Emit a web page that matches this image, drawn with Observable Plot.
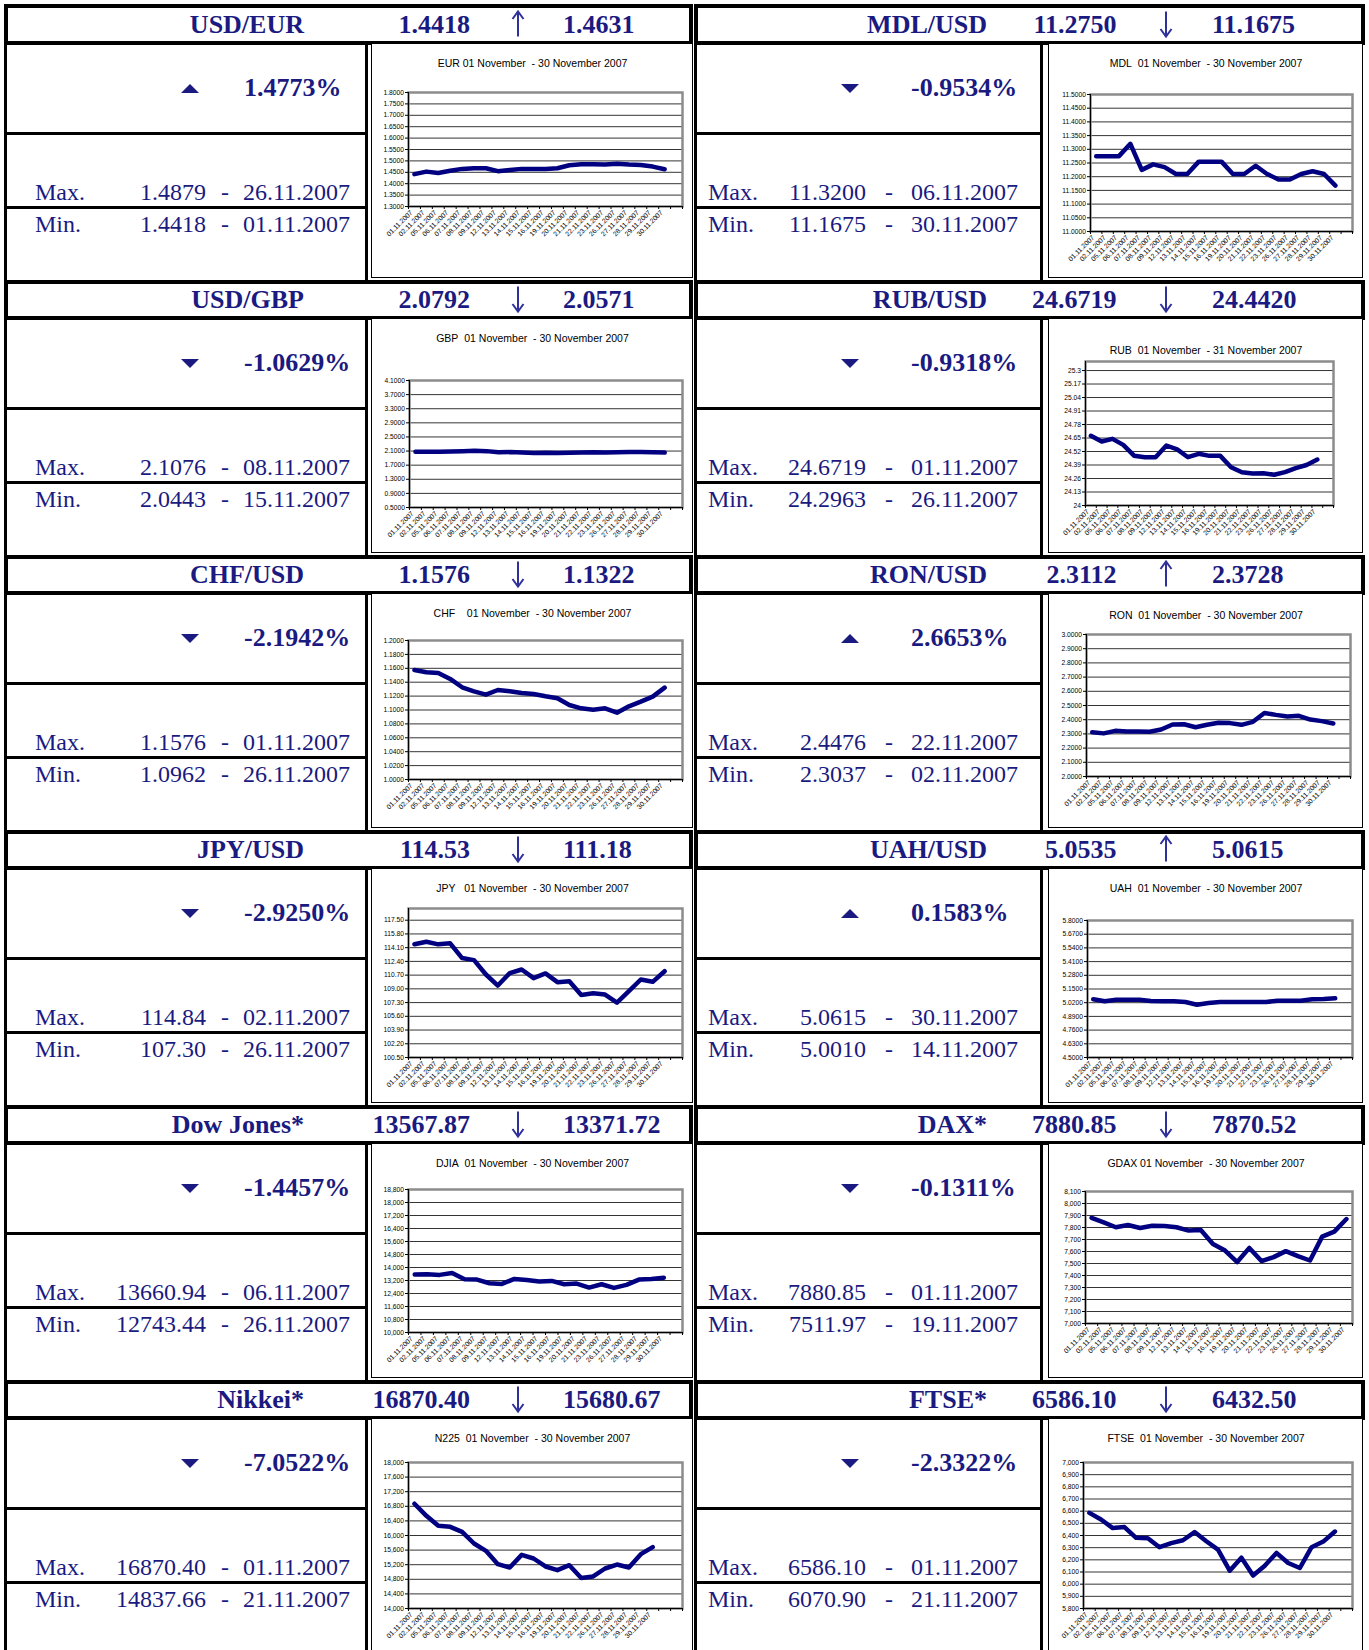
<!DOCTYPE html>
<html><head><meta charset="utf-8">
<script src="https://cdn.jsdelivr.net/npm/d3@7"></script>
<script src="https://cdn.jsdelivr.net/npm/@observablehq/plot@0.6"></script>
<style>
html,body{margin:0;padding:0;background:#fff;overflow:hidden}
#page{position:relative;width:1369px;height:1650px;background:#fff;overflow:hidden}
.t{position:absolute;white-space:nowrap;font-family:"Liberation Serif","Times New Roman",serif;color:#1a1a80;height:40px;line-height:40px}
.b{font-weight:bold;font-size:26px}
.r{font-size:24px}
.ln{position:absolute;background:#000}
.hdr{position:absolute;border:4px solid #000;box-sizing:border-box}
.box{position:absolute;border:1.5px solid #000;box-sizing:border-box;pointer-events:none}
.ch{position:absolute}
.arw{position:absolute;overflow:visible}
</style></head>
<body><div id="page"></div>
<script>
// ---------- data ----------
const dates22 = ["01.11.2007","02.11.2007","05.11.2007","06.11.2007","07.11.2007","08.11.2007","09.11.2007","12.11.2007","13.11.2007","14.11.2007","15.11.2007","16.11.2007","19.11.2007","20.11.2007","21.11.2007","22.11.2007","23.11.2007","26.11.2007","27.11.2007","28.11.2007","29.11.2007","30.11.2007"];
const datesDJIA = ["01.11.2007","02.11.2007","05.11.2007","06.11.2007","07.11.2007","08.11.2007","09.11.2007","12.11.2007","13.11.2007","14.11.2007","15.11.2007","16.11.2007","19.11.2007","20.11.2007","21.11.2007","23.11.2007","26.11.2007","27.11.2007","28.11.2007","29.11.2007","30.11.2007"];
const datesN225 = ["01.11.2007","02.11.2007","05.11.2007","06.11.2007","07.11.2007","08.11.2007","09.11.2007","12.11.2007","13.11.2007","14.11.2007","15.11.2007","16.11.2007","19.11.2007","20.11.2007","21.11.2007","22.11.2007","26.11.2007","27.11.2007","28.11.2007","29.11.2007","30.11.2007"];

const eurValues  = [1.4418,1.4530,1.4470,1.4570,1.4650,1.4680,1.4680,1.4550,1.4600,1.4650,1.4650,1.4650,1.4680,1.4810,1.4850,1.4850,1.4840,1.4879,1.4840,1.4820,1.4750,1.4631];
const mdlValues  = [11.2750,11.2750,11.2750,11.3200,11.2250,11.2450,11.2350,11.2100,11.2100,11.2550,11.2550,11.2550,11.2100,11.2100,11.2400,11.2100,11.1900,11.1900,11.2100,11.2200,11.2100,11.1675];
const gbpValues  = [2.0792,2.0820,2.0800,2.0880,2.0950,2.1076,2.0980,2.0650,2.0700,2.0600,2.0443,2.0500,2.0480,2.0520,2.0600,2.0650,2.0620,2.0650,2.0700,2.0750,2.0680,2.0571];
const rubValues  = [24.6719,24.6160,24.6420,24.5840,24.4800,24.4650,24.4650,24.5780,24.5400,24.4650,24.4980,24.4780,24.4780,24.3690,24.3210,24.3080,24.3110,24.2963,24.3210,24.3600,24.3900,24.4420];
const chfValues  = [1.1576,1.1543,1.1534,1.1447,1.1327,1.1269,1.1221,1.1288,1.1269,1.1245,1.1231,1.1197,1.1168,1.1072,1.1024,1.1005,1.1024,1.0962,1.1053,1.1120,1.1192,1.1322];
const ronValues  = [2.3112,2.3037,2.3216,2.3170,2.3170,2.3146,2.3310,2.3660,2.3680,2.3470,2.3640,2.3780,2.3760,2.3640,2.3850,2.4476,2.4340,2.4225,2.4270,2.4010,2.3900,2.3728];
const jpyValues  = [114.53,114.84,114.51,114.64,112.81,112.56,110.78,109.41,110.95,111.40,110.33,110.91,109.83,109.95,108.25,108.46,108.29,107.30,108.71,110.16,109.87,111.18];
const uahValues  = [5.0535,5.0330,5.0485,5.0485,5.0485,5.0360,5.0330,5.0330,5.0260,5.0010,5.0170,5.0260,5.0260,5.0260,5.0260,5.0260,5.0390,5.0390,5.0390,5.0517,5.0550,5.0615];
const djiaValues = [13567.87,13586,13545,13660.94,13277,13256,13030,12988,13298,13236,13133,13174,12968,13009,12762,12968,12743.44,12927,13256,13298,13371.72];
const daxValues  = [7880.85,7843,7802,7821,7796,7815,7813,7802,7774,7779,7663,7608,7511.97,7630,7520,7553,7603,7561,7525,7724,7766,7870.52];
const n225Values = [16870.40,16539,16265,16237,16100,15781,15580,15215,15123,15470,15370,15151,15050,15187,14837.66,14877,15096,15205,15123,15489,15680.67];
const ftseValues = [6586.10,6532,6461,6469,6381,6378,6304,6337,6361,6428,6353,6284,6111,6218,6070.90,6152,6257,6174,6133,6304,6350,6432.50];

const eurTicks  = [1.30,1.35,1.40,1.45,1.50,1.55,1.60,1.65,1.70,1.75,1.80];
const mdlTicks  = [11.00,11.05,11.10,11.15,11.20,11.25,11.30,11.35,11.40,11.45,11.50];
const gbpTicks  = [0.5,0.9,1.3,1.7,2.1,2.5,2.9,3.3,3.7,4.1];
const rubTicks  = [24,24.13,24.26,24.39,24.52,24.65,24.78,24.91,25.04,25.17,25.3];
const chfTicks  = [1.00,1.02,1.04,1.06,1.08,1.10,1.12,1.14,1.16,1.18,1.20];
const ronTicks  = [2.0,2.1,2.2,2.3,2.4,2.5,2.6,2.7,2.8,2.9,3.0];
const jpyTicks  = [100.50,102.20,103.90,105.60,107.30,109.00,110.70,112.40,114.10,115.80,117.50];
const uahTicks  = [4.50,4.63,4.76,4.89,5.02,5.15,5.28,5.41,5.54,5.67,5.80];
const djiaTicks = [10000,10800,11600,12400,13200,14000,14800,15600,16400,17200,18000,18800];
const daxTicks  = [7000,7100,7200,7300,7400,7500,7600,7700,7800,7900,8000,8100];
const n225Ticks = [14000,14400,14800,15200,15600,16000,16400,16800,17200,17600,18000];
const ftseTicks = [5800,5900,6000,6100,6200,6300,6400,6500,6600,6700,6800,6900,7000];

const pairNames  = ["USD/EUR","MDL/USD","USD/GBP","RUB/USD","CHF/USD","RON/USD","JPY/USD","UAH/USD","Dow Jones*","DAX*","Nikkei*","FTSE*"];
const openValues = ["1.4418","11.2750","2.0792","24.6719","1.1576","2.3112","114.53","5.0535","13567.87","7880.85","16870.40","6586.10"];
const closeValues= ["1.4631","11.1675","2.0571","24.4420","1.1322","2.3728","111.18","5.0615","13371.72","7870.52","15680.67","6432.50"];
const changePct  = ["1.4773%","-0.9534%","-1.0629%","-0.9318%","-2.1942%","2.6653%","-2.9250%","0.1583%","-1.4457%","-0.1311%","-7.0522%","-2.3322%"];
const maxValues  = ["1.4879","11.3200","2.1076","24.6719","1.1576","2.4476","114.84","5.0615","13660.94","7880.85","16870.40","6586.10"];
const maxDates   = ["26.11.2007","06.11.2007","08.11.2007","01.11.2007","01.11.2007","22.11.2007","02.11.2007","30.11.2007","06.11.2007","01.11.2007","01.11.2007","01.11.2007"];
const minValues  = ["1.4418","11.1675","2.0443","24.2963","1.0962","2.3037","107.30","5.0010","12743.44","7511.97","14837.66","6070.90"];
const minDates   = ["01.11.2007","30.11.2007","15.11.2007","26.11.2007","26.11.2007","02.11.2007","26.11.2007","14.11.2007","26.11.2007","19.11.2007","21.11.2007","21.11.2007"];
const chartTitles= ["EUR 01 November  - 30 November 2007","MDL  01 November  - 30 November 2007","GBP  01 November  - 30 November 2007","RUB  01 November  - 31 November 2007","CHF    01 November  - 30 November 2007","RON  01 November  - 30 November 2007","JPY   01 November  - 30 November 2007","UAH  01 November  - 30 November 2007","DJIA  01 November  - 30 November 2007","GDAX 01 November  - 30 November 2007","N225  01 November  - 30 November 2007","FTSE  01 November  - 30 November 2007"];

const f4 = d => d.toFixed(4), f2 = d => d.toFixed(2), fg = d => String(+d.toFixed(2)), fc = d3.format(",");
const charts = [
  {values: eurValues,  labels: dates22,   slots: 23, ticks: eurTicks,  domain: [1.3, 1.8],       fmt: f4, m: [37,11,49,72], ty: 20},
  {values: mdlValues,  labels: dates22,   slots: 23, ticks: mdlTicks,  domain: [11.0, 11.5],     fmt: f4, m: [42,11,51,47], ty: 20},
  {values: gbpValues,  labels: dates22,   slots: 23, ticks: gbpTicks,  domain: [0.5, 4.1],       fmt: f4, m: [38,11,62,46], ty: 20},
  {values: rubValues,  labels: dates22,   slots: 23, ticks: rubTicks,  domain: [24, 25.387],     fmt: fg, m: [37,30,43,48], ty: 32},
  {values: chfValues,  labels: dates22,   slots: 23, ticks: chfTicks,  domain: [1.0, 1.2],       fmt: f4, m: [37,11,47,49], ty: 20},
  {values: ronValues,  labels: dates22,   slots: 23, ticks: ronTicks,  domain: [2.0, 3.0],       fmt: f4, m: [38,13,41,52], ty: 22},
  {values: jpyValues,  labels: dates22,   slots: 23, ticks: jpyTicks,  domain: [100.5, 118.95],  fmt: f2, m: [37,11,40,46], ty: 20},
  {values: uahValues,  labels: dates22,   slots: 23, ticks: uahTicks,  domain: [4.5, 5.8],       fmt: f4, m: [39,11,52,46], ty: 20},
  {values: djiaValues, labels: datesDJIA, slots: 22, ticks: djiaTicks, domain: [10000, 18800],   fmt: fc, m: [37,11,46,46], ty: 20},
  {values: daxValues,  labels: dates22,   slots: 22, ticks: daxTicks,  domain: [7000, 8100],     fmt: fc, m: [37,11,48,55], ty: 20},
  {values: n225Values, labels: datesN225, slots: 23, ticks: n225Ticks, domain: [14000, 18000],   fmt: fc, m: [37,11,44,45], ty: 20},
  {values: ftseValues, labels: dates22,   slots: 23, ticks: ftseTicks, domain: [5800, 7000],     fmt: fc, m: [35,11,44,45], ty: 20}
];

// ---------- layout ----------
const page = document.getElementById("page");
const NAVY = "#1a1a80";
const cols = [
  {hdrL: 4, hdrW: 689, title: 304, v1: 470, arrow: 518, v2: 563, tri: 189.5, pct: 244, lab: 35, val: 206, dash: 225, date: 243, lineL: 4, lineR: 365, boxL: 371, boxW: 322},
  {hdrL: 694, hdrW: 671, title: 987, v1: 1116.5, arrow: 1166, v2: 1212, tri: 850, pct: 911, lab: 708, val: 866, dash: 889, date: 911, lineL: 694, lineR: 1040, boxL: 1048, boxW: 315}
];
function txt(s, x, y, anchor, cls) {
  const d = document.createElement("div");
  d.className = "t " + cls;
  d.textContent = s;
  d.style.top = (y - 20) + "px";
  if (anchor === "end") { d.style.left = (x - 600) + "px"; d.style.width = "600px"; d.style.textAlign = "right"; }
  else if (anchor === "middle") { d.style.left = (x - 300) + "px"; d.style.width = "600px"; d.style.textAlign = "center"; }
  else d.style.left = x + "px";
  page.appendChild(d);
}
function line(x, y, w, h) {
  const d = document.createElement("div");
  d.className = "ln";
  Object.assign(d.style, {left: x + "px", top: y + "px", width: w + "px", height: h + "px"});
  page.appendChild(d);
}
function tri(cx, cy, up) {
  const d = document.createElement("div");
  Object.assign(d.style, {position: "absolute", width: 0, height: 0, left: (cx - 9) + "px", top: (cy - 4.5) + "px",
    borderLeft: "9px solid transparent", borderRight: "9px solid transparent"});
  if (up) d.style.borderBottom = "9px solid " + NAVY; else d.style.borderTop = "9px solid " + NAVY;
  page.appendChild(d);
}
function arrow(cx, cy, up) {
  const ns = "http://www.w3.org/2000/svg";
  const s = document.createElementNS(ns, "svg");
  s.setAttribute("class", "arw");
  s.setAttribute("width", 20); s.setAttribute("height", 30);
  s.style.left = (cx - 10) + "px"; s.style.top = (cy - 15) + "px";
  const g = document.createElementNS(ns, "g");
  if (!up) g.setAttribute("transform", "rotate(180 10 15)");
  const p = document.createElementNS(ns, "path");
  p.setAttribute("d", "M10,2.5 L10,27.5 M4.5,10 L10,2.5 L15.5,10");
  p.setAttribute("fill", "none");
  p.setAttribute("stroke", "#30309a");
  p.setAttribute("stroke-width", 2);
  p.setAttribute("stroke-linejoin", "miter");
  g.appendChild(p); s.appendChild(g);
  page.appendChild(s);
}

function makeChart(c, W, H, title) {
  const [mL, mR, mT, mB] = c.m;
  return Plot.plot({
    width: W, height: H,
    marginLeft: mL, marginRight: mR, marginTop: mT, marginBottom: mB,
    x: {type: "linear", domain: [0, c.slots]},
    y: {domain: c.domain},
    style: {fontFamily: "'Liberation Sans', Arial, sans-serif", background: "white", color: "#000", overflow: "visible"},
    marks: [
      Plot.ruleY(c.ticks, {stroke: "#000", strokeWidth: 0.8}),
      Plot.frame({stroke: "#8c8c8c", strokeWidth: 2.5}),
      Plot.ruleX([0], {stroke: "#000", strokeWidth: 1}),
      Plot.ruleY([c.domain[0]], {stroke: "#000", strokeWidth: 1}),
      Plot.axisY({ticks: c.ticks, tickFormat: c.fmt, tickSize: 3, tickPadding: 1.5, fontSize: 6.7, label: null, anchor: "left"}),
      Plot.axisX({ticks: d3.range(c.slots + 1), tickFormat: () => "", tickSize: 3, label: null}),
      Plot.axisX({ticks: c.labels.map((d, i) => i + 0.5), tickFormat: v => c.labels[Math.round(v - 0.5)], tickSize: 0, tickPadding: 5, tickRotate: -45, fontSize: 6.8, label: null, dx: -3}),
      Plot.line(c.values, {x: (d, i) => i + 0.5, y: d => d, stroke: "#000080", strokeWidth: 4.5, strokeLinejoin: "round", strokeLinecap: "round"}),
      Plot.text([title.replace(/ /g, "\u00a0")], {text: d => d, frameAnchor: "top", dy: c.ty - mT, dx: (mR - mL) / 2, fontSize: 10.5, lineAnchor: "middle", fill: "#000"})
    ]
  });
}

for (let i = 0; i < 12; i++) {
  const r = Math.floor(i / 2), k = i % 2, C = cols[k];
  const R = 5 + 275 * r;
  // header box
  const h = document.createElement("div");
  h.className = "hdr";
  const hTop = r === 0 ? R - 1.5 : R;
  Object.assign(h.style, {left: C.hdrL + "px", top: hTop + "px", width: C.hdrW + "px", height: (R + 40 - hTop) + "px"});
  page.appendChild(h);
  const cy = R + 19.5;
  txt(pairNames[i], C.title, cy, "end", "b");
  txt(openValues[i], C.v1, cy, "end", "b");
  const up = !changePct[i].startsWith("-");
  arrow(C.arrow, R + 18.5, up);
  txt(closeValues[i], C.v2, cy, "start", "b");
  // text area
  const bottom = r === 5 ? 1650 : R + 275;
  line(C.lineL, R + 40, 2.5, bottom - R - 40);
  line(C.lineR, R + 40, 3, bottom - R - 40);
  line(C.lineL, R + 127, C.lineR - C.lineL + 3, 3);
  line(C.lineL, R + 201, C.lineR - C.lineL + 3, 3);
  tri(C.tri, R + 83, up);
  txt(changePct[i], C.pct, R + 83, "start", "b");
  txt("Max.", C.lab, R + 187, "start", "r");
  txt(maxValues[i], C.val, R + 187, "end", "r");
  txt("-", C.dash, R + 187, "middle", "r");
  txt(maxDates[i], C.date, R + 187, "start", "r");
  txt("Min.", C.lab, R + 218.5, "start", "r");
  txt(minValues[i], C.val, R + 218.5, "end", "r");
  txt("-", C.dash, R + 218.5, "middle", "r");
  txt(minDates[i], C.date, R + 218.5, "start", "r");
  // chart
  const top = R + 38, H = 235;
  const holder = document.createElement("div");
  holder.className = "ch";
  Object.assign(holder.style, {left: C.boxL + "px", top: top + "px", width: C.boxW + "px", height: H + "px"});
  holder.appendChild(makeChart(charts[i], C.boxW, H, chartTitles[i]));
  page.appendChild(holder);
  const bx = document.createElement("div");
  bx.className = "box";
  Object.assign(bx.style, {left: C.boxL + "px", top: top + "px", width: C.boxW + "px", height: H + "px"});
  page.appendChild(bx);
}
</script></body></html>
